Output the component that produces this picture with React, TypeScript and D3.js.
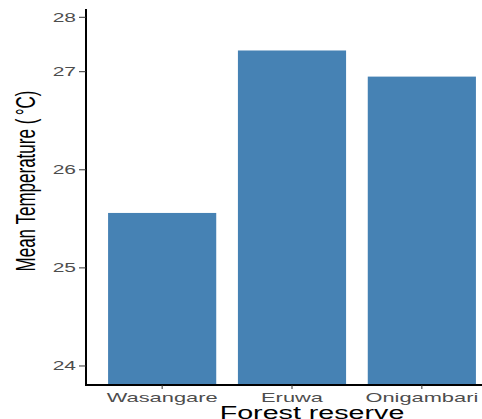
import React from "react";
import * as d3 from "d3";

const reserves = ["Wasangare", "Eruwa", "Onigambari"];
const meanTemps = [25.56, 27.39, 26.95];
const yTicks = [24, 25, 26, 27, 28];

const W = 482;
const H = 419;
const SX = 1.68; // horizontal stretch applied to all text
const FONT = "'Liberation Sans', Arial, sans-serif";

export default function App() {
  const axisX = 86;
  const axisY = 385;

  const x = d3
    .scaleBand<string>()
    .domain(reserves)
    .range([axisX, 498])
    .paddingInner(0.167)
    .paddingOuter(0.17);

  // piecewise scale: the panel's top segment is compressed
  const y = d3.scaleLinear().domain([23.806, 27, 28]).range([axisY, 71.7, 17.3]);

  return (
    <div style={{ position: "fixed", left: 0, top: 0 }}>
      <svg width={W} height={H} style={{ display: "block", background: "#fff" }}>
        {/* bars */}
        {reserves.map((r, i) => (
          <rect
            key={r}
            x={x(r)}
            y={y(meanTemps[i])}
            width={x.bandwidth()}
            height={axisY - y(meanTemps[i])}
            fill="#4682B4"
          />
        ))}

        {/* y axis */}
        <line x1={axisX} x2={axisX} y1={9} y2={axisY + 1} stroke="#000" strokeWidth={2} />
        {yTicks.map((t) => (
          <g key={t}>
            <line x1={axisX - 7} x2={axisX} y1={y(t)} y2={y(t)} stroke="#333" strokeWidth={1} />
            <text
              transform={`translate(${axisX - 10},${y(t)}) scale(${SX},1)`}
              textAnchor="end"
              dy="0.36em"
              fontFamily={FONT}
              fontSize={12.5}
              fill="#4d4d4d"
            >
              {t}
            </text>
          </g>
        ))}

        {/* x axis */}
        <line x1={axisX - 1} x2={W} y1={axisY} y2={axisY} stroke="#000" strokeWidth={2} />
        {reserves.map((r) => {
          const cx = (x(r) as number) + x.bandwidth() / 2;
          return (
            <g key={r}>
              <line x1={cx} x2={cx} y1={axisY} y2={axisY + 4} stroke="#333" strokeWidth={1} />
              <text
                transform={`translate(${cx},${axisY + 16.5}) scale(${SX},1)`}
                textAnchor="middle"
                fontFamily={FONT}
                fontSize={13}
                fill="#4d4d4d"
              >
                {r}
              </text>
            </g>
          );
        })}

        {/* axis titles */}
        <text
          transform={`translate(312,418.5) scale(1.55,1)`}
          textAnchor="middle"
          fontFamily={FONT}
          fontSize={18.5}
          fill="#000"
        >
          Forest reserve
        </text>
        <text
          transform={`translate(25,181) scale(${SX},1) rotate(-90)`}
          textAnchor="middle"
          dominantBaseline="central"
          fontFamily={FONT}
          fontSize={17}
          fill="#000"
        >
          Mean Temperature ({"\u2009"}°C)
        </text>
      </svg>
    </div>
  );
}
